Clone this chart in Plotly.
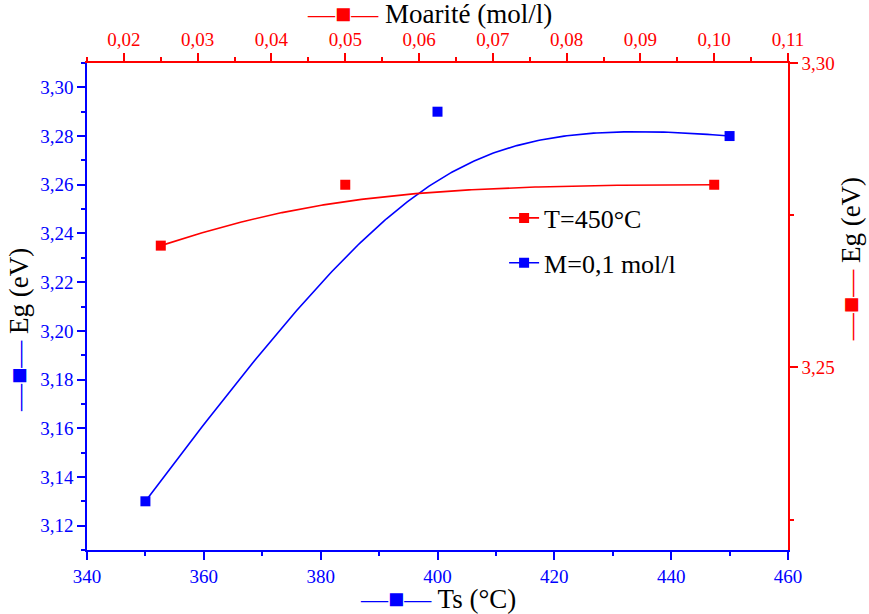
import numpy as np
import plotly.graph_objects as go

# ---- data ----
ts_c = [350, 400, 450]                 # substrate temperature (°C), bottom axis
eg_ts = [3.13, 3.29, 3.28]             # Eg (eV), left axis
molarity = [0.025, 0.05, 0.10]         # molarity (mol/l), top axis
eg_m = [3.27, 3.28, 3.28]              # Eg (eV), right axis

BLUE = "#0000ff"
RED = "#ff0000"
FONT = "Liberation Serif"


def bspline(xs, ys, w=1.5, n=200):
    """Smooth connector (rational quadratic B-spline-like) through end points,
    using the middle data point as control point (like Origin's B-spline)."""
    t = np.linspace(0, 1, n)
    b0 = (1 - t) ** 2
    b1 = 2 * w * t * (1 - t)
    b2 = t ** 2
    d = b0 + b1 + b2
    x = (b0 * xs[0] + b1 * xs[1] + b2 * xs[2]) / d
    y = (b0 * ys[0] + b1 * ys[1] + b2 * ys[2]) / d
    return x, y


fig = go.Figure()

rx, ry = bspline(molarity, eg_m, w=1.5)
bx, by = bspline(ts_c, eg_ts, w=2.0)

fig.add_trace(go.Scatter(x=rx, y=ry, mode="lines", line=dict(color=RED, width=1.6),
                         xaxis="x2", yaxis="y2", showlegend=False, hoverinfo="skip"))
fig.add_trace(go.Scatter(x=molarity, y=eg_m, mode="markers",
                         marker=dict(symbol="square", size=10, color=RED),
                         xaxis="x2", yaxis="y2", showlegend=False))
fig.add_trace(go.Scatter(x=bx, y=by, mode="lines", line=dict(color=BLUE, width=1.6),
                         showlegend=False, hoverinfo="skip"))
fig.add_trace(go.Scatter(x=ts_c, y=eg_ts, mode="markers",
                         marker=dict(symbol="square", size=10, color=BLUE),
                         showlegend=False))

# legend entries
fig.add_trace(go.Scatter(x=[None], y=[None], mode="lines+markers", name="T=450°C",
                         line=dict(color=RED, width=1.6),
                         marker=dict(symbol="square", size=10, color=RED),
                         legendgroup="a"))
fig.add_trace(go.Scatter(x=[None], y=[None], mode="lines+markers", name="M=0,1 mol/l",
                         line=dict(color=BLUE, width=1.6),
                         marker=dict(symbol="square", size=10, color=BLUE),
                         legendgroup="b"))

tickfont_b = dict(family=FONT, size=19, color=BLUE)
tickfont_r = dict(family=FONT, size=19, color=RED)

fig.update_layout(
    width=869, height=614,
    margin=dict(l=87, r=81, t=63, b=64),
    paper_bgcolor="white", plot_bgcolor="white",
    separators=", ",
    font=dict(family=FONT, color="black"),
    xaxis=dict(range=[340, 460], tick0=340, dtick=20, ticks="outside", ticklen=8, tickwidth=1.5,
               tickcolor=BLUE, showline=True, linecolor=BLUE, linewidth=1.6, showgrid=False,
               zeroline=False, tickfont=tickfont_b,
               minor=dict(ticks="outside", ticklen=4, dtick=10, tick0=340, tickcolor=BLUE, tickwidth=1.5)),
    yaxis=dict(range=[3.11, 3.31], tick0=3.12, dtick=0.02, tickformat=".2f", ticks="outside",
               ticklen=8, tickwidth=1.5, tickcolor=BLUE, showline=True, linecolor=BLUE,
               linewidth=1.6, showgrid=False, zeroline=False, tickfont=tickfont_b,
               minor=dict(ticks="outside", ticklen=4, dtick=0.01, tick0=3.11, tickcolor=BLUE, tickwidth=1.5)),
    xaxis2=dict(range=[0.015, 0.11], tick0=0.02, dtick=0.01, tickformat=".2f", overlaying="x",
                side="top", anchor="y2", ticks="outside", ticklen=8, tickwidth=1.5, tickcolor=RED,
                showline=True, linecolor=RED, linewidth=1.6, showgrid=False, zeroline=False,
                tickfont=tickfont_r,
                minor=dict(ticks="outside", ticklen=4, dtick=0.005, tick0=0.015, tickcolor=RED, tickwidth=1.5)),
    yaxis2=dict(range=[3.22, 3.30], tick0=3.25, dtick=0.05, tickformat=".2f", overlaying="y",
                side="right", anchor="x2", ticks="outside", ticklen=8, tickwidth=1.5, tickcolor=RED,
                showline=True, linecolor=RED, linewidth=1.6, showgrid=False, zeroline=False,
                tickfont=tickfont_r,
                minor=dict(ticks="outside", ticklen=4, dtick=0.025, tick0=3.2, tickcolor=RED, tickwidth=1.5)),
    legend=dict(x=0.595, y=0.73, xanchor="left", yanchor="top", bgcolor="rgba(0,0,0,0)",
                font=dict(family=FONT, size=26, color="black"), traceorder="grouped",
                tracegroupgap=8),
)

title_font = dict(family=FONT, size=27, color="black")
fig.add_annotation(text=f'<span style="color:{BLUE}">—■—</span> Ts (°C)',
                   xref="paper", yref="paper", x=0.5, y=-0.1, xanchor="center", yanchor="middle",
                   showarrow=False, font=title_font)
fig.add_annotation(text=f'<span style="color:{RED}">—■—</span> Moarité (mol/l)',
                   xref="paper", yref="paper", x=0.489, y=1.1, xanchor="center", yanchor="middle",
                   showarrow=False, font=title_font)
fig.add_annotation(text=f'<span style="color:{BLUE}">—■—</span> Eg (eV)',
                   xref="paper", yref="paper", x=-0.096, y=0.451, xanchor="center", yanchor="middle",
                   textangle=-90, showarrow=False, font=title_font)
fig.add_annotation(text=f'<span style="color:{RED}">—■—</span> Eg (eV)',
                   xref="paper", yref="paper", x=1.089, y=0.598, xanchor="center", yanchor="middle",
                   textangle=-90, showarrow=False, font=title_font)

fig.write_html("out.html", config={"displayModeBar": False},
               post_script="document.body.style.margin='0';document.body.style.overflow='hidden';")
